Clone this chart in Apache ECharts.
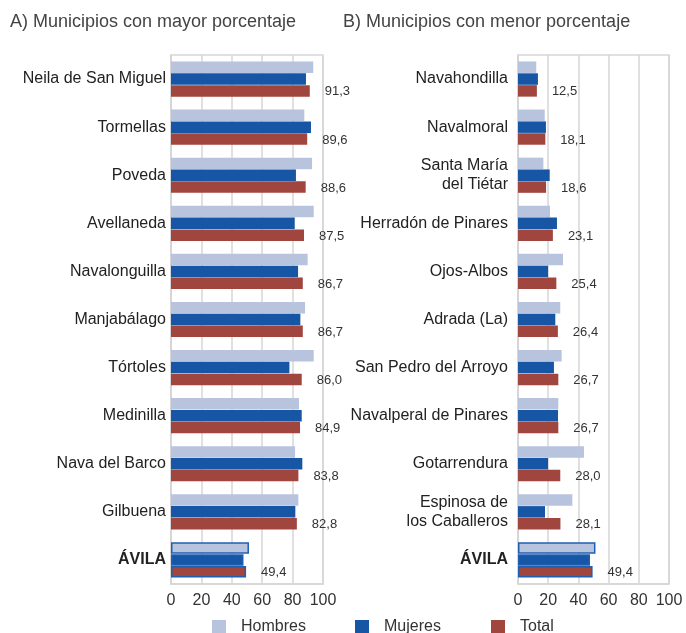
<!DOCTYPE html>
<html>
<head>
<meta charset="utf-8">
<script src="https://cdn.jsdelivr.net/npm/echarts@6/dist/echarts.min.js"></script>
<style>
html,body{margin:0;padding:0;background:#fff;}
#chart{width:686px;height:633px;}
</style>
</head>
<body>
<div id="chart"></div>
<script>
const seriesNames = ['Hombres', 'Mujeres', 'Total'];
const axisTicks = [0, 20, 40, 60, 80, 100];

const leftCategories = ['Neila de San Miguel', 'Tormellas', 'Poveda', 'Avellaneda', 'Navalonguilla', 'Manjabálago', 'Tórtoles', 'Medinilla', 'Nava del Barco', 'Gilbuena', 'ÁVILA'];
const leftHombres = [93.6, 87.7, 92.8, 93.9, 89.9, 88.2, 93.9, 84.2, 81.6, 83.8, 51.3];
const leftMujeres = [88.8, 92.1, 82.2, 81.4, 83.6, 85.1, 77.9, 86.0, 86.4, 81.8, 47.7];
const leftTotal = [91.3, 89.6, 88.6, 87.5, 86.7, 86.7, 86.0, 84.9, 83.8, 82.8, 49.4];

const rightCategories = ['Navahondilla', 'Navalmoral', 'Santa María\ndel Tiétar', 'Herradón de Pinares', 'Ojos-Albos', 'Adrada (La)', 'San Pedro del Arroyo', 'Navalperal de Pinares', 'Gotarrendura', 'Espinosa de\nlos Caballeros', 'ÁVILA'];
const rightHombres = [12.1, 17.7, 16.8, 21.2, 29.8, 28.0, 28.9, 26.7, 43.7, 36.0, 51.3];
const rightMujeres = [13.2, 18.5, 21.0, 25.8, 19.9, 24.7, 23.8, 26.5, 19.9, 17.9, 47.7];
const rightTotal = [12.5, 18.1, 18.6, 23.1, 25.4, 26.4, 26.7, 26.7, 28.0, 28.1, 49.4];

const colors = { Hombres: '#b8c4dd', Mujeres: '#1656a4', Total: '#a1453f' };
const FONT = "'Liberation Sans', Arial, sans-serif";
const gridColor = '#d6d6d6';

function mark(values, cats) {
  return values.map((v, i) => cats[i] === 'ÁVILA'
    ? { value: v, itemStyle: { borderColor: '#1f5fb2', borderWidth: 1.5 } }
    : v);
}

function makeAxes(gi, cats, margin) {
  const x = {
    type: 'value', gridIndex: gi, min: axisTicks[0], max: axisTicks[axisTicks.length - 1], interval: 20,
    axisLine: { show: true, lineStyle: { color: gridColor, width: 1.5 } },
    axisTick: { show: false },
    splitLine: { show: true, lineStyle: { color: gridColor, width: 1.5 } },
    axisLabel: { color: '#333', fontSize: 16, fontFamily: FONT, margin: 9 }
  };
  const y = {
    type: 'category', gridIndex: gi, data: cats, inverse: true,
    axisLine: { show: true, lineStyle: { color: gridColor, width: 1.5 } },
    axisTick: { show: false },
    axisLabel: {
      color: '#222', fontSize: 16, fontFamily: FONT, margin: margin, lineHeight: 19, align: 'right',
      formatter: v => v === 'ÁVILA' ? '{b|' + v + '}' : v,
      rich: { b: { fontWeight: 'bold', fontSize: 16, fontFamily: FONT, color: '#222' } }
    }
  };
  return [x, y];
}

function makeSeries(gi, cats, h, m, t) {
  const common = { type: 'bar', xAxisIndex: gi, yAxisIndex: gi, barWidth: 11.5, barGap: '3%', animation: false };
  return [
    Object.assign({}, common, { name: 'Hombres', data: mark(h, cats), itemStyle: { color: colors.Hombres } }),
    Object.assign({}, common, { name: 'Mujeres', data: mark(m, cats), itemStyle: { color: colors.Mujeres } }),
    Object.assign({}, common, {
      name: 'Total', data: mark(t, cats), itemStyle: { color: colors.Total },
      label: {
        show: true, position: 'right', distance: 15, offset: [0, 1],
        color: '#333', fontSize: 13, fontFamily: FONT,
        formatter: p => p.value.toFixed(1).replace('.', ',')
      }
    })
  ];
}

const [lx, ly] = makeAxes(0, leftCategories, 5);
const [rx, ry] = makeAxes(1, rightCategories, 10);

const chart = echarts.init(document.getElementById('chart'), null, { renderer: 'canvas' });
chart.setOption({
  animation: false,
  title: [
    { text: 'A) Municipios con mayor porcentaje', left: 5, top: 8, textStyle: { fontSize: 18, fontWeight: 'normal', color: '#444', fontFamily: FONT } },
    { text: 'B) Municipios con menor porcentaje', left: 338, top: 8, textStyle: { fontSize: 18, fontWeight: 'normal', color: '#444', fontFamily: FONT } }
  ],
  grid: [
    { left: 171, top: 55, width: 152, height: 529, show: true, borderColor: gridColor, borderWidth: 1.5, containLabel: false },
    { left: 518, top: 55, width: 151, height: 529, show: true, borderColor: gridColor, borderWidth: 1.5, containLabel: false }
  ],
  legend: seriesNames.map((n, i) => ({
    data: [n], left: [207, 350, 486][i], top: 614, itemWidth: 14, itemHeight: 14, icon: 'rect',
    textStyle: { fontSize: 16, color: '#333', fontFamily: FONT, padding: [0, 0, 0, 10] },
    selectedMode: false
  })),
  xAxis: [lx, rx],
  yAxis: [ly, ry],
  series: [
    ...makeSeries(0, leftCategories, leftHombres, leftMujeres, leftTotal),
    ...makeSeries(1, rightCategories, rightHombres, rightMujeres, rightTotal)
  ]
});
</script>
</body>
</html>
